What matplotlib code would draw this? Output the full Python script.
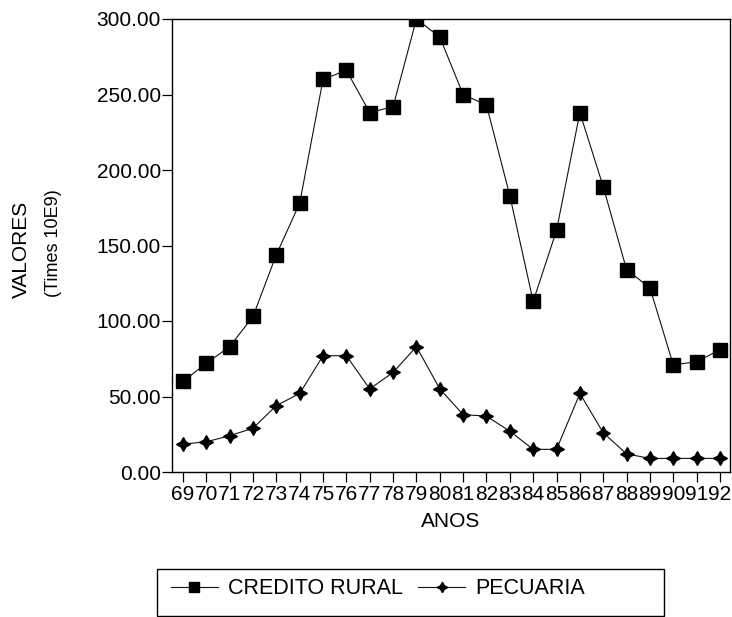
import matplotlib

matplotlib.use("Agg")
import matplotlib.pyplot as plt
from matplotlib.patches import Rectangle
from matplotlib.ticker import FormatStrFormatter

plt.rcParams["font.family"] = ["Liberation Sans", "DejaVu Sans"]

# Years 1969-1992 shown as two-digit labels
anos = ["69", "70", "71", "72", "73", "74", "75", "76", "77", "78", "79", "80",
        "81", "82", "83", "84", "85", "86", "87", "88", "89", "90", "91", "92"]

credito_rural = [60, 72, 83, 103, 144, 178, 260, 266, 238, 242, 300, 288,
                 250, 243, 183, 113, 160, 238, 189, 134, 122, 71, 73, 81]

pecuaria = [18.5, 20, 24, 29, 44, 52, 77, 77, 55, 66, 83, 55,
            38, 37, 27, 15, 15, 52, 26, 12, 9, 9, 9, 9]

y_ticks = [0, 50, 100, 150, 200, 250, 300]


def plot_chart():
    """Draw the two series and save to out.png."""
    W, H = 732, 617
    fig = plt.figure(figsize=(W / 100, H / 100), dpi=100)
    ax = fig.add_axes([172 / W, 1 - 472 / H, 558 / W, 453 / H])

    x = list(range(len(anos)))
    ax.plot(x, credito_rural, color="#111111", linewidth=0.8, marker="s",
            markersize=9.5, markerfacecolor="black", markeredgecolor="black",
            label="CREDITO RURAL")
    ax.plot(x, pecuaria, color="#111111", linewidth=0.8, marker=(4, 1, 0),
            markersize=10, markerfacecolor="black", markeredgecolor="black",
            label="PECUARIA")

    ax.set_xlim(-0.47, len(anos) - 0.57)
    ax.set_ylim(0, 300)
    ax.set_xticks(x)
    ax.set_xticklabels(anos)
    ax.set_yticks(y_ticks)
    ax.yaxis.set_major_formatter(FormatStrFormatter("%.2f"))
    ax.tick_params(axis="both", labelsize=15, direction="out", length=7,
                   width=0.9, pad=2)
    ax.tick_params(axis="y", pad=1)

    for spine in ax.spines.values():
        spine.set_linewidth(1.0)

    ax.set_xlabel("ANOS", fontsize=15, labelpad=6)
    fig.text(21 / W, 1 - 249 / H, "VALORES", rotation=90, fontsize=15,
             ha="center", va="center")
    fig.text(54 / W, 1 - 243 / H, "(Times 10E9)", rotation=90, fontsize=13,
             ha="center", va="center")

    # Legend: fixed-size box like the original, entries packed at the left
    box = Rectangle((157 / W, 1 - 616 / H), (664 - 157) / W, (616 - 569) / H,
                    transform=fig.transFigure, fill=False, edgecolor="black",
                    linewidth=1.0)
    fig.patches.append(box)
    handles, labels = ax.get_legend_handles_labels()
    fig.legend(handles, labels, loc="center left",
               bbox_to_anchor=(160 / W, 1 - 589 / H), ncol=2, fontsize=15.5,
               frameon=False, handlelength=2.2, columnspacing=0.7,
               handletextpad=0.45, borderpad=0.0, markerscale=0.75)

    fig.savefig("out.png", dpi=100)
    plt.close(fig)


if __name__ == "__main__":
    plot_chart()
